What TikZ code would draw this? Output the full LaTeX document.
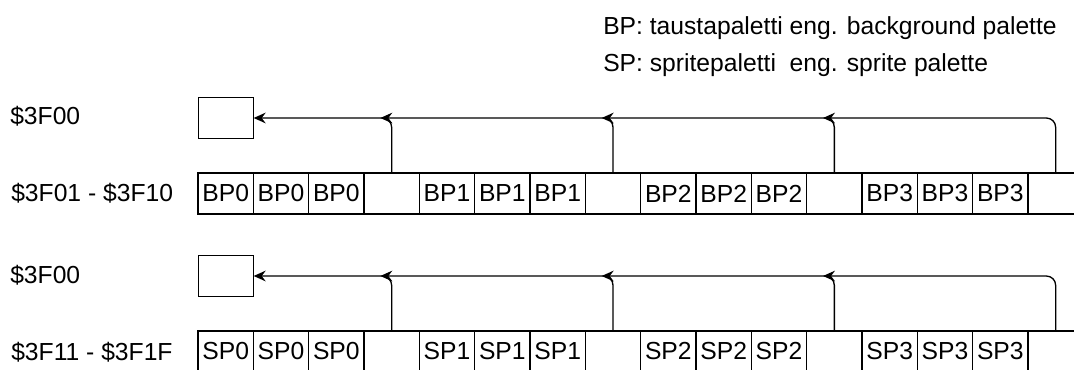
\documentclass[tikz,border=0pt]{standalone}
\usepackage{fontspec}
\setmainfont{Liberation Sans}
\usetikzlibrary{arrows.meta, positioning, calc}

\begin{document}
\begin{tikzpicture}[
    x=0.75pt, y=-0.75pt,
    font=\fontsize{18.5}{22}\selectfont,
    % one byte of palette memory
    slot/.style={rectangle, draw=black, line width=1pt, fill=white, minimum width=41.5pt, minimum height=30.75pt, inner sep=0pt, outer sep=0pt},
    % mirrored entry pointing back to the universal colour
    mirror/.style={-{Stealth[length=9pt, width=8pt, inset=3pt]}, line width=1pt, rounded corners=7pt},
    addr/.style={anchor=base west, inner sep=0pt},
    note/.style={anchor=base west, inner sep=0pt}
]
\useasboundingbox (0,0) rectangle (1074,370);

% =========================================================
% LEGEND
% =========================================================
\node[note] (bp_note) at (603,35) {BP: taustapaletti eng. background palette};
\node[note] (sp_note) at (603,72) {SP: spritepaletti\ \ eng. sprite palette};

% =========================================================
% BACKGROUND PALETTES
% =========================================================
\node[addr] (bg_addr0) at (10,125) {\$3F00};
\node[addr] (bg_addr) at (11,202) {\$3F01 - \$3F10};

\node[slot] (bg_hub) at (226,118) {};

\node[slot, anchor=west] (bg0) at (198,193.5) {BP0};
\foreach \txt [count=\i from 1, remember=\i as \j (initially 0)] in {BP0,BP0,{},BP1,BP1,BP1,{},BP2,BP2,BP2,{},BP3,BP3,BP3,{}}
    \node[slot, right=0pt of bg\j] (bg\i) {\txt};

% every fourth slot mirrors $3F00
\draw[mirror] (bg15.north) |- ($(bg11.north |- bg_hub.east)+(-8.5pt,0)$);
\draw[mirror] (bg11.north) |- ($(bg7.north |- bg_hub.east)+(-8.5pt,0)$);
\draw[mirror] (bg7.north) |- ($(bg3.north |- bg_hub.east)+(-8.5pt,0)$);
\draw[mirror] (bg3.north) |- (bg_hub.east);

% =========================================================
% SPRITE PALETTES
% =========================================================
\node[addr] (sp_addr0) at (10,283) {\$3F00};
\node[addr] (sp_addr) at (11,360) {\$3F11 - \$3F1F};

\node[slot] (sp_hub) at (226,276) {};

\node[slot, anchor=west] (sp0) at (198,351.5) {SP0};
\foreach \txt [count=\i from 1, remember=\i as \j (initially 0)] in {SP0,SP0,{},SP1,SP1,SP1,{},SP2,SP2,SP2,{},SP3,SP3,SP3,{}}
    \node[slot, right=0pt of sp\j] (sp\i) {\txt};

\draw[mirror] (sp15.north) |- ($(sp11.north |- sp_hub.east)+(-8.5pt,0)$);
\draw[mirror] (sp11.north) |- ($(sp7.north |- sp_hub.east)+(-8.5pt,0)$);
\draw[mirror] (sp7.north) |- ($(sp3.north |- sp_hub.east)+(-8.5pt,0)$);
\draw[mirror] (sp3.north) |- (sp_hub.east);

\end{tikzpicture}
\end{document}
